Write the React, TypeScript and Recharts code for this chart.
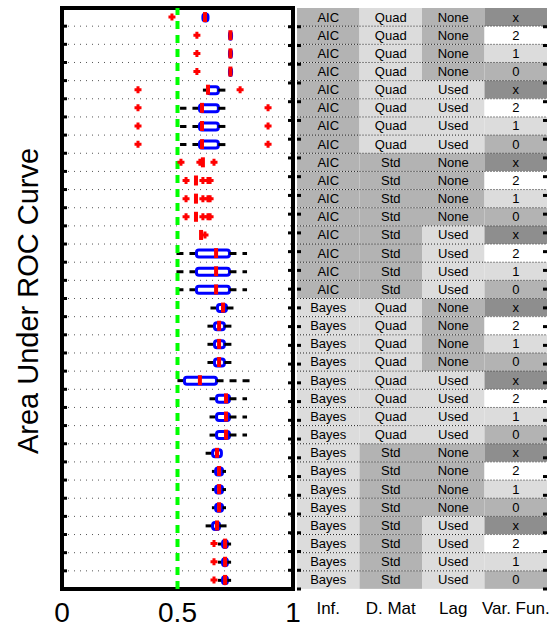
import React from "react";
import {
  Bar,
  BarChart,
  CartesianGrid,
  ComposedChart,
  ReferenceArea,
  ReferenceLine,
  Scatter,
  XAxis,
  YAxis,
} from "recharts";

const FONT = "'Liberation Sans', Arial, Helvetica, sans-serif";

// table columns (one entry per row, top to bottom)
const infLabels = [
  "AIC", "AIC", "AIC", "AIC", "AIC", "AIC", "AIC", "AIC",
  "AIC", "AIC", "AIC", "AIC", "AIC", "AIC", "AIC", "AIC",
  "Bayes", "Bayes", "Bayes", "Bayes", "Bayes", "Bayes", "Bayes", "Bayes",
  "Bayes", "Bayes", "Bayes", "Bayes", "Bayes", "Bayes", "Bayes", "Bayes",
];
const dmatLabels = [
  "Quad", "Quad", "Quad", "Quad", "Quad", "Quad", "Quad", "Quad",
  "Std", "Std", "Std", "Std", "Std", "Std", "Std", "Std",
  "Quad", "Quad", "Quad", "Quad", "Quad", "Quad", "Quad", "Quad",
  "Std", "Std", "Std", "Std", "Std", "Std", "Std", "Std",
];
const lagLabels = [
  "None", "None", "None", "None", "Used", "Used", "Used", "Used",
  "None", "None", "None", "None", "Used", "Used", "Used", "Used",
  "None", "None", "None", "None", "Used", "Used", "Used", "Used",
  "None", "None", "None", "None", "Used", "Used", "Used", "Used",
];
const varFunLabels = [
  "x", "2", "1", "0", "x", "2", "1", "0",
  "x", "2", "1", "0", "x", "2", "1", "0",
  "x", "2", "1", "0", "x", "2", "1", "0",
  "x", "2", "1", "0", "x", "2", "1", "0",
];
const columnNames = ["Inf.", "D. Mat", "Lag", "Var. Fun."];

// box plot statistics, one per row
const whiskerLow = [
  0.610, 0.725, 0.725, 0.725, 0.610, 0.511, 0.511, 0.511,
  0.610, 0.580, 0.580, 0.580, 0.602, 0.476, 0.476, 0.476,
  0.632, 0.610, 0.610, 0.610, 0.476, 0.619, 0.619, 0.619,
  0.610, 0.649, 0.649, 0.649, 0.597, 0.675, 0.675, 0.675,
];
const q1 = [
  0.610, 0.725, 0.725, 0.725, 0.630, 0.595, 0.595, 0.595,
  0.610, 0.580, 0.580, 0.580, 0.602, 0.582, 0.582, 0.582,
  0.673, 0.660, 0.660, 0.660, 0.530, 0.669, 0.669, 0.669,
  0.652, 0.665, 0.665, 0.665, 0.652, 0.695, 0.695, 0.695,
];
const median = [
  0.619, 0.729, 0.729, 0.729, 0.632, 0.606, 0.606, 0.606,
  0.610, 0.580, 0.580, 0.580, 0.602, 0.667, 0.667, 0.667,
  0.697, 0.680, 0.680, 0.680, 0.597, 0.710, 0.710, 0.710,
  0.671, 0.680, 0.680, 0.680, 0.671, 0.706, 0.706, 0.706,
];
const q3 = [
  0.632, 0.734, 0.734, 0.734, 0.677, 0.677, 0.677, 0.677,
  0.610, 0.580, 0.580, 0.580, 0.602, 0.725, 0.725, 0.725,
  0.712, 0.703, 0.703, 0.703, 0.669, 0.725, 0.725, 0.725,
  0.690, 0.695, 0.695, 0.695, 0.682, 0.716, 0.716, 0.716,
];
const whiskerHigh = [
  0.632, 0.734, 0.734, 0.734, 0.710, 0.732, 0.732, 0.732,
  0.610, 0.580, 0.580, 0.580, 0.602, 0.801, 0.801, 0.801,
  0.758, 0.758, 0.758, 0.758, 0.831, 0.801, 0.801, 0.801,
  0.690, 0.710, 0.710, 0.710, 0.719, 0.732, 0.732, 0.732,
];
const outliers: number[][] = [
  [0.476], [0.584], [0.584], [0.584],
  [0.329, 0.771], [0.329, 0.892], [0.329, 0.892], [0.329, 0.892],
  [0.515, 0.597, 0.658],
  [0.537, 0.610, 0.632, 0.641], [0.537, 0.610, 0.632, 0.641], [0.537, 0.610, 0.632, 0.641],
  [0.619], [], [], [],
  [], [], [], [], [], [], [], [],
  [], [], [], [], [], [0.658], [0.658], [0.658],
];

const xTicks = [0, 0.5, 1];
const rowCount = infLabels.length;
const rowBounds = Array.from({ length: rowCount - 1 }, (_, i) => i + 1);

const rowNames = infLabels.map(
  (inf, i) => `${inf} ${dmatLabels[i]} ${lagLabels[i]} ${varFunLabels[i]}`
);

const boxRows = rowNames.map((name, i) => ({
  name,
  base: whiskerLow[i],
  lw: q1[i] - whiskerLow[i],
  box: q3[i] - q1[i],
  uw: whiskerHigh[i] - q3[i],
}));
// numeric row position (vertical layout runs the number y axis top to bottom)
const rowPos = (i: number) => i + 0.5;
const medianPts = median.map((m, i) => ({ x: m, y: rowPos(i) }));
const outlierPts = outliers.flatMap((list, i) => list.map((v) => ({ x: v, y: rowPos(i) })));

const tableCols = [infLabels, dmatLabels, lagLabels, varFunLabels];
const tableRows = rowNames.map((name) => ({ name, c0: 1, c1: 1, c2: 1, c3: 1 }));

const shades: Record<string, string>[] = [
  { AIC: "#b3b3b3", Bayes: "#dcdcdc" },
  { Quad: "#dcdcdc", Std: "#b3b3b3" },
  { None: "#b3b3b3", Used: "#dcdcdc" },
  { x: "#8e8e8e", "2": "#ffffff", "1": "#dcdcdc", "0": "#b3b3b3" },
];

const BoxShape = (p: any) => {
  if (!p.width || p.width <= 0) return <g />;
  return (
    <rect x={p.x} y={p.y} width={p.width} height={p.height} rx={2.5}
      fill="#fff" stroke="#0000ff" strokeWidth={3} />
  );
};

const LowWhisker = (p: any) => {
  if (!p.width || p.width <= 0) return <g />;
  const cy = p.y + p.height / 2;
  return <line x1={p.x + p.width} x2={p.x} y1={cy} y2={cy} stroke="#000" strokeWidth={3} strokeDasharray="7 6" />;
};

const HighWhisker = (p: any) => {
  if (!p.width || p.width <= 0) return <g />;
  const cy = p.y + p.height / 2;
  return <line x1={p.x} x2={p.x + p.width} y1={cy} y2={cy} stroke="#000" strokeWidth={3} strokeDasharray="7 6" />;
};

const MedianMark = (p: any) => (
  <rect x={p.cx - 2} y={p.cy - 5} width={4} height={10} fill="#ff0000" />
);

const OutlierMark = (p: any) => (
  <path d={`M${p.cx - 3.5},${p.cy}H${p.cx + 3.5}M${p.cx},${p.cy - 3.5}V${p.cy + 3.5}`}
    stroke="#ff0000" strokeWidth={3} />
);

const NumTick = (p: any) => (
  <text x={p.x} y={p.y + 33} textAnchor="middle" fontSize={28} fontFamily={FONT} fill="#000">
    {p.payload.value}
  </text>
);

const ColTick = (p: any) => (
  <text x={p.x} y={p.y + 25} textAnchor="middle" fontSize={17} fontFamily={FONT} fill="#000">
    {columnNames[Math.floor(p.payload.value)]}
  </text>
);

const NoLabel = () => null;

const makeCell = (col: number) => (p: any) => {
  const label = tableCols[col][p.index];
  return (
    <g>
      <rect x={p.x} y={p.y} width={p.width} height={p.height} fill={shades[col][label]} />
      {p.index > 0 && (
        <line x1={p.x} x2={p.x + p.width} y1={p.y} y2={p.y} stroke="#222" strokeDasharray="1 2" />
      )}
      <text x={p.x + p.width / 2} y={p.y + p.height / 2 + 4.5} textAnchor="middle"
        fontSize={13} fontFamily={FONT} fill="#000">
        {label}
      </text>
    </g>
  );
};

const tickLineStyle = { stroke: "#000", strokeWidth: 3 };

export default function App() {
  return (
    <div style={{ position: "absolute", left: 0, top: 0, width: 554, height: 630, background: "#fff" }}>
      <svg width={60} height={630} style={{ position: "absolute", left: 0, top: 0 }}>
        <text x={28} y={301} transform="rotate(-90 28 301)" textAnchor="middle" dominantBaseline="central"
          fontSize={29} fontFamily={FONT} fill="#000">
          Area Under ROC Curve
        </text>
      </svg>

      <div style={{ position: "absolute", left: 0, top: 0 }}>
        <ComposedChart width={300} height={630} data={boxRows} layout="vertical"
          margin={{ top: 8, right: 7, bottom: 0, left: 62 }} barCategoryGap={0}>
          <CartesianGrid horizontal vertical={false} stroke="#555" strokeDasharray="1 5" />
          <XAxis type="number" dataKey="x" domain={[0, 1]} allowDataOverflow ticks={xTicks} interval={0}
            height={41} axisLine={false} tickLine={false} tickSize={0} tickMargin={0} tick={<NumTick />} />
          <XAxis xAxisId="top" orientation="top" type="number" domain={[0, 1]} ticks={xTicks} interval={0}
            mirror axisLine={false} tick={NoLabel} tickSize={5} tickLine={tickLineStyle} />
          <YAxis type="number" dataKey="y" domain={[0, rowCount]} allowDataOverflow ticks={rowBounds}
            interval={0} mirror axisLine={false} tick={NoLabel} tickSize={5} tickLine={tickLineStyle} />
          <YAxis yAxisId="r" orientation="right" type="number" domain={[0, rowCount]} ticks={rowBounds}
            interval={0} mirror axisLine={false} tick={NoLabel} tickSize={5} tickLine={tickLineStyle} />
          <YAxis yAxisId="cat" type="category" dataKey="name" hide />
          <ReferenceLine x={0.5} stroke="#00ff00" strokeWidth={4} strokeDasharray="8 6" />
          <Bar yAxisId="cat" dataKey="base" stackId="b" barSize={7} fill="transparent" isAnimationActive={false} />
          <Bar yAxisId="cat" dataKey="lw" stackId="b" barSize={7} shape={LowWhisker} isAnimationActive={false} />
          <Bar yAxisId="cat" dataKey="box" stackId="b" barSize={7} shape={BoxShape} isAnimationActive={false} />
          <Bar yAxisId="cat" dataKey="uw" stackId="b" barSize={7} shape={HighWhisker} isAnimationActive={false} />
          <Scatter data={outlierPts} shape={OutlierMark} isAnimationActive={false} />
          <Scatter data={medianPts} shape={MedianMark} isAnimationActive={false} />
          <ReferenceArea x1={0} x2={1} y1={0} y2={rowCount} fill="none" stroke="#000" strokeWidth={4} />
        </ComposedChart>
      </div>

      <div style={{ position: "absolute", left: 294, top: 0 }}>
        <BarChart width={260} height={630} data={tableRows} layout="vertical"
          margin={{ top: 8, right: 7, bottom: 0, left: 3 }} barCategoryGap={0} barGap={0}>
          <XAxis type="number" domain={[0, 4]} ticks={[0.5, 1.5, 2.5, 3.5]} interval={0} height={41}
            axisLine={false} tickLine={false} tickSize={0} tickMargin={0} tick={<ColTick />} />
          <XAxis xAxisId="m" type="number" domain={[0, 4]} ticks={[0.5, 1.5, 2.5, 3.5]} interval={0}
            mirror axisLine={false} tick={NoLabel} tickSize={4} tickLine={tickLineStyle} />
          <YAxis type="category" dataKey="name" hide />
          <YAxis yAxisId="n" type="number" domain={[0, rowCount]} ticks={rowBounds} interval={0}
            mirror axisLine={false} tick={NoLabel} tickSize={4} tickLine={tickLineStyle} />
          <YAxis yAxisId="nr" orientation="right" type="number" domain={[0, rowCount]} ticks={rowBounds}
            interval={0} mirror axisLine={false} tick={NoLabel} tickSize={4} tickLine={tickLineStyle} />
          <Bar dataKey="c0" stackId="t" shape={makeCell(0)} isAnimationActive={false} />
          <Bar dataKey="c1" stackId="t" shape={makeCell(1)} isAnimationActive={false} />
          <Bar dataKey="c2" stackId="t" shape={makeCell(2)} isAnimationActive={false} />
          <Bar dataKey="c3" stackId="t" shape={makeCell(3)} isAnimationActive={false} />
          <ReferenceArea yAxisId="n" x1={0} x2={4} y1={0} y2={rowCount} fill="none" stroke="#000" strokeWidth={4} />
        </BarChart>
      </div>
    </div>
  );
}
